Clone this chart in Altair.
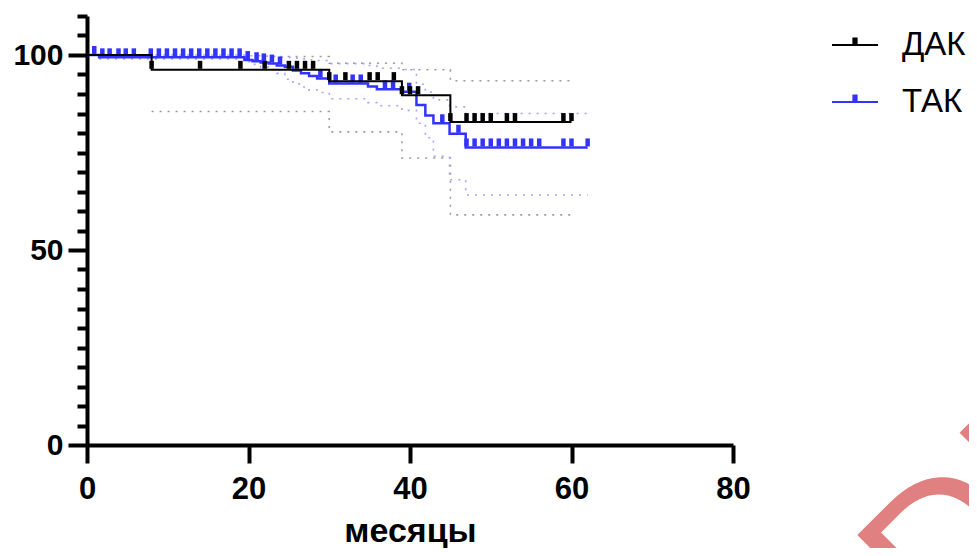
import altair as alt
import pandas as pd

# ---------------- data ----------------
GROUPS = ["ДАК", "ТАК"]
COLORS = ["#000000", "#3333FF"]

# ДАК Kaplan-Meier steps
dak_t = [0, 8, 30, 39, 45, 60]
dak_s = [100, 96.2, 93.3, 89.7, 82.8, 82.8]
# 95% CI bands (start at the first event)
dak_ci_t = [8, 30, 39, 45, 60]
dak_lo = [85.5, 80.3, 73.6, 59.0, 59.0]
dak_hi = [99.6, 97.9, 96.2, 93.4, 93.4]
dak_cens = [8, 14, 19, 22, 25, 26, 27, 28, 30, 32, 35, 36, 38, 39, 40, 41,
            45, 47, 48, 49, 50, 52, 53, 59, 60]

# ТАК Kaplan-Meier steps
tak_t = [0, 1.5, 19.5, 20.5, 21.5, 22.5, 23.5, 24.5, 25.5, 26.5, 27.5, 28.5,
         30, 34.8, 35.9, 39, 40.8, 41.9, 42.9, 44.9, 46.9, 62]
tak_s = [100, 99.4, 98.7, 98.4, 98.1, 97.8, 97.3, 97.0, 96.0, 95.3, 94.6, 94.0,
         92.7, 91.9, 91.2, 90.6, 87.2, 84.5, 82.5, 79.8, 76.3, 76.3]
tak_ci_t = [1.5, 19.5, 20.5, 21.5, 22.5, 23.5, 24.5, 25.5, 26.5, 27.5, 28.5,
            30, 34.8, 35.9, 39, 40.8, 41.9, 42.9, 44.9, 46.9, 62]
tak_lo = [99.0, 98.3, 97.6, 96.9, 96.2, 95.3, 93.8, 92.6, 91.8, 91.0, 90.4,
          88.8, 87.8, 87.0, 85.8, 82.5, 78.8, 74.0, 68.0, 64.1, 64.1]
tak_hi = [100, 99.8, 99.8, 99.7, 99.6, 99.5, 99.4, 99.2, 99.0, 98.8, 98.6,
          97.8, 97.3, 96.6, 96.3, 92.5, 90.5, 88.5, 86.7, 85.0, 85.0]
tak_cens = [0.9, 1.9, 2.8, 3.9, 4.8, 5.8, 7.9, 8.9, 9.9, 10.9, 11.9, 12.9, 13.9,
            14.9, 15.9, 16.9, 17.9, 18.9, 19.9, 21, 21.9, 22.9, 23.9, 28.9,
            30.8, 32.9, 33.9, 36.9, 37.9, 39.9, 44, 46, 47, 48, 49, 50, 51, 52,
            53, 54, 55, 56, 59, 60, 62]

X_TICKS = [0, 20, 40, 60, 80]
Y_MAJOR = [0, 50, 100]
Y_MINOR = [v for v in range(0, 111, 5) if v not in Y_MAJOR]

FONT = "Liberation Sans"


def step_value(time, ts, ss):
    v = ss[0]
    for ti, si in zip(ts, ss):
        if ti <= time + 1e-9:
            v = si
    return v


def curve_df(ts, ss, grp):
    return pd.DataFrame({"t": ts, "s": ss, "grp": grp})


def band_df(ts, lo, hi):
    return pd.concat([
        pd.DataFrame({"t": ts, "s": lo, "b": "lo"}),
        pd.DataFrame({"t": ts, "s": hi, "b": "hi"}),
    ])


def cens_df(cens, ts, ss):
    return pd.DataFrame({"t": cens, "s": [step_value(c, ts, ss) for c in cens]})


x_scale = alt.Scale(domain=[0, 80], nice=False, zero=False)
y_scale = alt.Scale(domain=[0, 110], nice=False, zero=False)

x_axis = alt.Axis(
    values=X_TICKS, tickSize=18, tickWidth=4, domainWidth=4,
    domainColor="black", tickColor="black", grid=False,
    labelFont=FONT, labelFontSize=31, labelFontWeight="bold",
    labelColor="black", labelPadding=11, labelFlush=False,
    labelOverlap=False,
    title="месяцы", titleFont=FONT, titleFontSize=34,
    titleFontWeight="bold", titleColor="black",
    titleBaseline="alphabetic", titleY=96,
)

y_major_axis = alt.Axis(
    orient="left", values=Y_MAJOR, tickSize=19, tickWidth=4, domainWidth=4,
    domainColor="black", tickColor="black", grid=False,
    labelFont=FONT, labelFontSize=30, labelFontWeight="bold",
    labelColor="black", labelPadding=5, labelFlush=False, title=None,
)

y_minor_axis = alt.Axis(
    orient="left", values=Y_MINOR, tickSize=10, tickWidth=4, domain=False,
    tickColor="black", grid=False, labels=False, title=None,
)

X = alt.X("t:Q", scale=x_scale, axis=x_axis)


def Y(axis=None):
    return alt.Y("s:Q", scale=y_scale, axis=axis)


LEGEND_PATH = ("M-1,0H1M-0.07,0V-0.33M-0.025,0V-0.33"
               "M0.025,0V-0.33M0.07,0V-0.33")

legend = alt.Legend(
    title=None, orient="none", legendX=744, legendY=5,
    symbolType=LEGEND_PATH, symbolSize=2116, symbolStrokeWidth=2,
    labelFont=FONT, labelFontSize=33, labelColor="black",
    labelOffset=23, rowPadding=16, padding=0,
)

color = alt.Color("grp:N", scale=alt.Scale(domain=GROUPS, range=COLORS),
                  legend=legend)

# confidence bands (dotted)
band_dak = alt.Chart(band_df(dak_ci_t, dak_lo, dak_hi)).mark_line(
    interpolate="step-after", strokeDash=[2, 6], strokeWidth=1.6,
    color="#9a9a9a"
).encode(x=X, y=Y(y_major_axis), detail="b:N")

band_tak = alt.Chart(band_df(tak_ci_t, tak_lo, tak_hi)).mark_line(
    interpolate="step-after", strokeDash=[2, 6], strokeWidth=1.6,
    color="#a5a5ff"
).encode(x=X, y=Y(y_minor_axis), detail="b:N")

line_tak = alt.Chart(curve_df(tak_t, tak_s, "ТАК")).mark_line(
    interpolate="step-after", strokeWidth=2.5
).encode(x=X, y=Y(), color=color)

ticks_tak = alt.Chart(cens_df(tak_cens, tak_t, tak_s)).mark_tick(
    orient="vertical", thickness=4.5, size=8, yOffset=-5, color=COLORS[1],
    opacity=1
).encode(x=X, y=Y())

line_dak = alt.Chart(curve_df(dak_t, dak_s, "ДАК")).mark_line(
    interpolate="step-after", strokeWidth=2
).encode(x=X, y=Y(), color=color)

ticks_dak = alt.Chart(cens_df(dak_cens, dak_t, dak_s)).mark_tick(
    orient="vertical", thickness=4.5, size=8, yOffset=-5, color=COLORS[0],
    opacity=1
).encode(x=X, y=Y())

watermark = alt.Chart(pd.DataFrame({"txt": ["DRAFT"]})).mark_text(
    align="left", baseline="alphabetic", angle=315, fontSize=200,
    font=FONT, color="#E08080"
).encode(text="txt:N", x=alt.value(856), y=alt.value(628))

chart = alt.layer(
    band_dak, band_tak, line_tak, ticks_tak, line_dak, ticks_dak, watermark
).resolve_scale(
    x="shared", y="shared", color="shared"
).resolve_axis(
    y="independent"
).properties(
    width=646, height=429,
    autosize=alt.AutoSizeParams(type="none"),
    padding={"left": 79, "top": 8, "right": 236, "bottom": 103},
).configure_view(strokeWidth=0)

chart.save("out.html", embed_options={"renderer": "svg", "actions": False})
